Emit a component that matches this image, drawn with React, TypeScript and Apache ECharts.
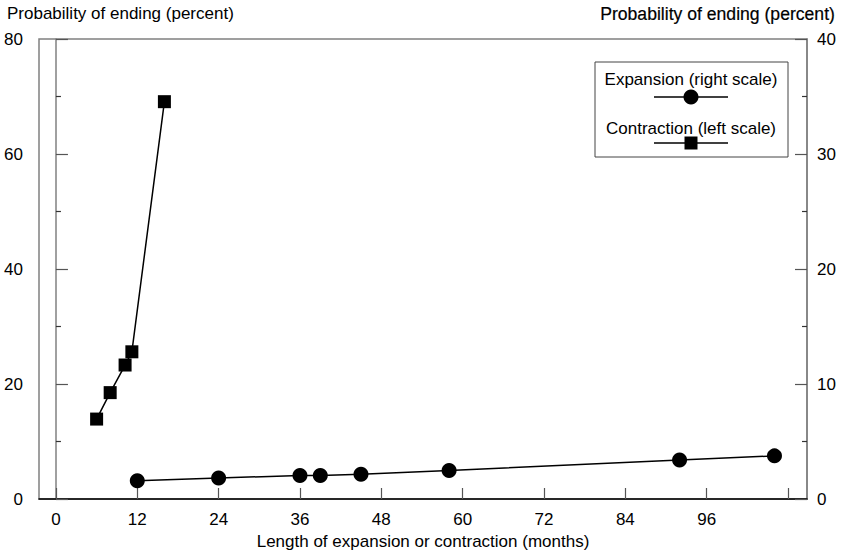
import React, { useEffect, useRef } from "react";
import * as echarts from "echarts";

const contractionMonths = [6, 8, 10.2, 11.2, 16];
const contractionProb = [13.9, 18.5, 23.3, 25.6, 69.1];
const expansionMonths = [12, 24, 36, 39, 45, 58, 92, 106];
const expansionProb = [1.58, 1.82, 2.05, 2.05, 2.16, 2.48, 3.4, 3.75];
const xTickValues = [0, 12, 24, 36, 48, 60, 72, 84, 96, 108];
const xLabelValues = [0, 12, 24, 36, 48, 60, 72, 84, 96];

const FONT = "'Liberation Sans', Arial, sans-serif";

export default function App() {
  const ref = useRef<HTMLDivElement>(null);
  useEffect(() => {
    const chart = echarts.init(ref.current!, null, { renderer: "svg" });
    const gray = "#808080";
    chart.setOption({
      animation: false,
      textStyle: { fontFamily: FONT },
      grid: {
        left: 39,
        right: 35,
        top: 39,
        bottom: 55,
        show: true,
        borderColor: gray,
        borderWidth: 1.5,
        containLabel: false,
      },
      xAxis: {
        type: "value",
        min: -2.5,
        max: 110.8,
        name: "Length of expansion or contraction (months)",
        nameLocation: "middle",
        nameGap: 34,
        nameTextStyle: { fontSize: 17, color: "#000", fontFamily: FONT },
        axisLine: { show: true, lineStyle: { color: "#000", width: 1.5 } },
        axisTick: {
          show: true,
          inside: true,
          length: 11,
          customValues: xTickValues,
          lineStyle: { color: "#555", width: 1.2 },
        },
        axisLabel: {
          customValues: xLabelValues,
          fontSize: 17,
          color: "#000",
          margin: 12,
          fontFamily: FONT,
        },
        splitLine: { show: false },
      },
      yAxis: [
        {
          type: "value",
          position: "left",
          min: 0,
          max: 80,
          interval: 20,
          axisLine: { show: true, lineStyle: { color: gray, width: 1.5 } },
          axisTick: { show: true, inside: true, length: 12, lineStyle: { color: "#555", width: 1.2 } },
          minorTick: { show: true, splitNumber: 2, length: 5, lineStyle: { color: "#333", width: 1.2 } },
          axisLabel: { fontSize: 17, color: "#000", margin: 16, fontFamily: FONT },
          splitLine: { show: false },
        },
        {
          type: "value",
          position: "right",
          min: 0,
          max: 40,
          interval: 10,
          axisLine: { show: true, lineStyle: { color: gray, width: 1.5 } },
          axisTick: { show: true, inside: true, length: 12, lineStyle: { color: "#555", width: 1.2 } },
          minorTick: { show: true, splitNumber: 2, length: 5, lineStyle: { color: "#333", width: 1.2 } },
          axisLabel: { fontSize: 17, color: "#000", margin: 10, fontFamily: FONT },
          splitLine: { show: false },
        },
      ],
      series: [
        {
          name: "Contraction (left scale)",
          type: "line",
          yAxisIndex: 0,
          data: contractionMonths.map((m, i) => [m, contractionProb[i]]),
          symbol: "rect",
          symbolSize: 13,
          itemStyle: { color: "#000" },
          lineStyle: { color: "#000", width: 1.5 },
        },
        {
          name: "Expansion (right scale)",
          type: "line",
          yAxisIndex: 1,
          data: expansionMonths.map((m, i) => [m, expansionProb[i]]),
          symbol: "circle",
          symbolSize: 15,
          itemStyle: { color: "#000" },
          lineStyle: { color: "#000", width: 1.5 },
        },
      ],
      graphic: [
        {
          type: "text",
          left: 7,
          top: 5,
          style: { text: "Probability of ending (percent)", font: `17px ${FONT}`, fill: "#000" },
        },
        {
          type: "text",
          right: 7,
          top: 5,
          style: {
            text: "Probability of ending (percent)",
            font: `17.6px ${FONT}`,
            fill: "#000",
            stroke: "#000",
            lineWidth: 0.2,
          },
        },
        {
          type: "rect",
          shape: { x: 595, y: 62, width: 193, height: 95 },
          style: { fill: "#fff", stroke: "#444", lineWidth: 1 },
          z: 10,
        },
        {
          type: "text",
          x: 691,
          y: 79.5,
          style: {
            text: "Expansion (right scale)",
            font: `17px ${FONT}`,
            fill: "#000",
            align: "center",
            verticalAlign: "middle",
          },
          z: 11,
        },
        {
          type: "line",
          shape: { x1: 654, y1: 97, x2: 728, y2: 97 },
          style: { stroke: "#000", lineWidth: 1.5 },
          z: 11,
        },
        {
          type: "circle",
          shape: { cx: 691, cy: 97, r: 7.5 },
          style: { fill: "#000" },
          z: 12,
        },
        {
          type: "text",
          x: 691,
          y: 128.5,
          style: {
            text: "Contraction (left scale)",
            font: `17px ${FONT}`,
            fill: "#000",
            align: "center",
            verticalAlign: "middle",
          },
          z: 11,
        },
        {
          type: "line",
          shape: { x1: 654, y1: 143, x2: 728, y2: 143 },
          style: { stroke: "#000", lineWidth: 1.5 },
          z: 11,
        },
        {
          type: "rect",
          shape: { x: 684.5, y: 136.5, width: 13, height: 13 },
          style: { fill: "#000" },
          z: 12,
        },
      ],
    });
    return () => chart.dispose();
  }, []);
  return <div ref={ref} style={{ width: 842, height: 555, position: "absolute", left: 0, top: 0 }} />;
}
